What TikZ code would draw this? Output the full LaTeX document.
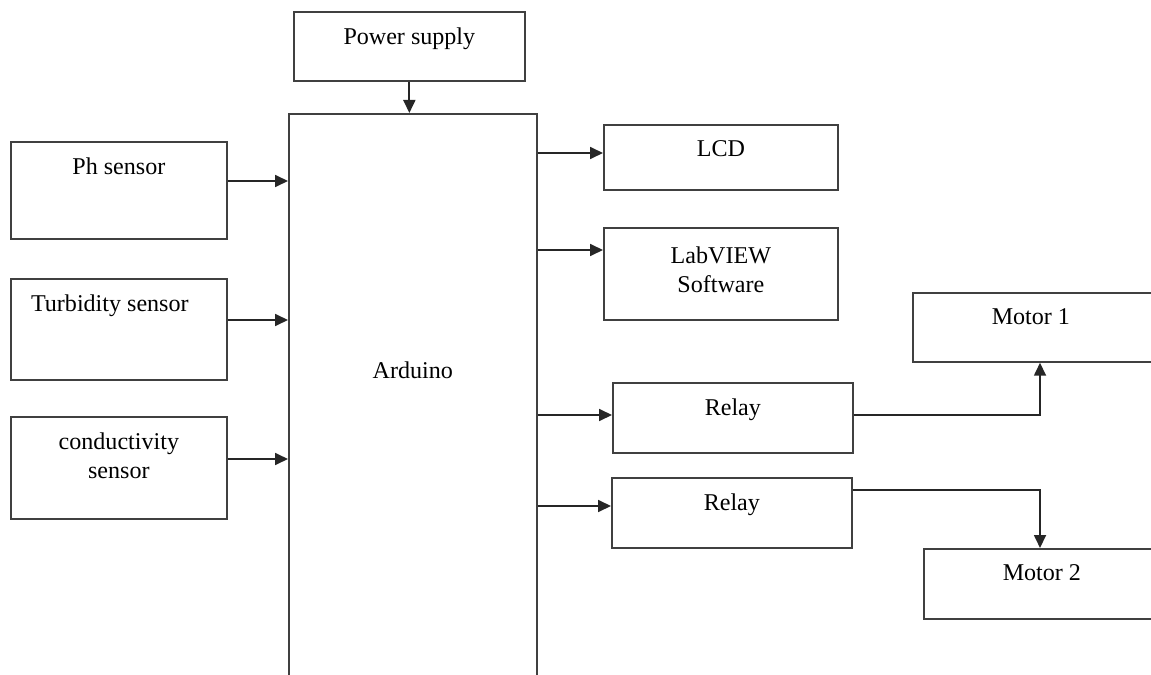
\documentclass[tikz,border=0pt]{standalone}
\usepackage{fontspec}
\setmainfont{Liberation Serif}
\usetikzlibrary{arrows.meta, positioning}

\begin{document}
\begin{tikzpicture}[x=0.02cm, y=-0.02cm,
        blk/.style={draw=black!75, line width=1pt, anchor=north west, inner sep=0},
        txt/.style={anchor=north, inner sep=0, yshift=-0.32cm, align=center, font=\fontsize{13.7}{16.5}\selectfont},
        arr/.style={draw=black!85, line width=1pt, -{Triangle[length=0.26cm, width=0.24cm]}}]
        \clip (0,0) rectangle (1151,675);

        \node[blk, minimum width=4.62cm, minimum height=1.38cm, label={[txt]north:Power supply}] (pwr) at (293,11) {};
        \node[blk, minimum width=4.96cm, minimum height=14cm, label={[txt, yshift=-4.64cm]north:Arduino}] (ard) at (288,113) {};

        \node[blk, minimum width=4.32cm, minimum height=1.94cm, label={[txt]north:Ph sensor}] (ph) at (10,141) {};
        \node[blk, minimum width=4.32cm, minimum height=2.02cm, label={[txt, xshift=-0.18cm]north:Turbidity sensor}] (turb) at (10,278) {};
        \node[blk, minimum width=4.32cm, minimum height=2.04cm, label={[txt]north:{conductivity\\sensor}}] (cond) at (10,416) {};

        \node[blk, minimum width=4.68cm, minimum height=1.3cm, label={[txt]north:LCD}] (lcd) at (603,124) {};
        \node[blk, minimum width=4.68cm, minimum height=1.84cm, label={[txt, yshift=-0.06cm]north:{LabVIEW\\Software}}] (lab) at (603,227) {};
        \node[blk, minimum width=4.8cm, minimum height=1.4cm, label={[txt]north:Relay}] (rel1) at (612,382) {};
        \node[blk, minimum width=4.8cm, minimum height=1.4cm, label={[txt]north:Relay}] (rel2) at (611,477) {};
        \node[blk, minimum width=4.8cm, minimum height=1.38cm, label={[txt, xshift=-0.04cm]north:Motor 1}] (mot1) at (912,292) {};
        \node[blk, minimum width=4.8cm, minimum height=1.4cm, label={[txt, xshift=-0.04cm]north:Motor 2}] (mot2) at (923,548) {};

        % inputs and outputs of the board
        \draw[arr] (pwr.south) -- (pwr.south |- ard.north);
        \foreach \s/\y in {ph/181, turb/320, cond/459}
            \draw[arr] (\s.east |- 0,\y) -- (ard.west |- 0,\y);
        \foreach \t/\y in {lcd/153, lab/250, rel1/415, rel2/506}
            \draw[arr] (ard.east |- 0,\y) -- (\t.west |- 0,\y);

        % relays to motors
        \draw[arr] (rel1.east |- 0,415) -| (mot1.south -| 1040,0);
        \draw[arr] (rel2.east |- 0,490) -| (mot2.north -| 1040,0);
\end{tikzpicture}
\end{document}
